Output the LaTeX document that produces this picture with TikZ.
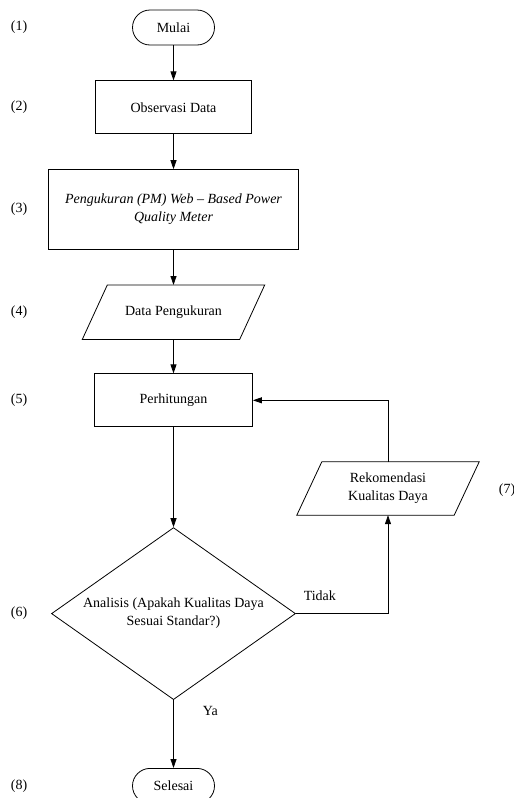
\documentclass[tikz,border=0pt]{standalone}
\usepackage{fontspec}
\setmainfont{Liberation Serif}
\usetikzlibrary{arrows.meta,positioning,shapes.geometric}
\tikzset{
  flowarrow/.style={-{Triangle[length=9pt,width=6pt]}, line width=0.8pt, draw=black},
  flowline/.style={line width=0.8pt, draw=black},
  terminal/.style={draw=black, line width=0.8pt, rounded corners=17.5pt,
    minimum width=82pt, minimum height=35pt, inner sep=0pt, align=center},
  process/.style={draw=black, line width=0.8pt, rectangle, inner sep=0pt, align=center},
  io/.style={rectangle, minimum width=157pt, minimum height=54pt, inner sep=0pt, align=center,
    append after command={\pgfextra{\draw[flowline]
      ([xshift=-12.5pt]\tikzlastnode.south west) -- ([xshift=12.5pt]\tikzlastnode.north west)
      -- ([xshift=12.5pt]\tikzlastnode.north east) -- ([xshift=-12.5pt]\tikzlastnode.south east)
      -- cycle;}}},
  decision/.style={draw=black, line width=0.8pt, diamond, shape aspect=1.42,
    minimum width=244pt, minimum height=172pt, inner sep=0pt, align=center},
  steplabel/.style={inner sep=0pt},
  smallnote/.style={inner sep=3pt}
}

\begin{document}
\begin{tikzpicture}[x=1pt, y=-1pt, node distance=35pt,
    every node/.style={font=\fontsize{14}{18}\selectfont}]
        \useasboundingbox (0,0) rectangle (514,798);
        \node[terminal] (mulai) at (173.5,27.5) {Mulai};
        \node[process, below=of mulai, minimum width=156pt, minimum height=53pt] (observasi) {Observasi Data};
        \node[process, below=of observasi, minimum width=250pt, minimum height=80pt] (ukur) {\itshape Pengukuran (PM) Web -- Based Power\\\itshape Quality Meter};
        \node[io, below=of ukur] (data) {Data Pengukuran};
        \node[process, below=34pt of data, minimum width=158pt, minimum height=53pt] (hitung) {Perhitungan};
        \node[decision, below=100pt of hitung] (analisis) {Analisis (Apakah Kualitas Daya\\Sesuai Standar?)};
        \node[terminal, below=68pt of analisis] (selesai) {Selesai};
        \node[io, minimum height=53pt] (rekom) at (388,488.5) {Rekomendasi\\Kualitas Daya};

        % nomor langkah
        \coordinate (lblx) at (19,0);
        \node[steplabel] (n1) at (lblx |- mulai) {(1)};
        \node[steplabel] (n2) at (lblx |- observasi) {(2)};
        \node[steplabel] (n3) at (lblx |- ukur) {(3)};
        \node[steplabel] (n4) at (lblx |- data) {(4)};
        \node[steplabel] (n5) at (lblx |- hitung) {(5)};
        \node[steplabel] (n6) at (lblx |- analisis) {(6)};
        \node[steplabel] (n7) at (507,490) {(7)};
        \node[steplabel] (n8) at (lblx |- selesai) {(8)};

        \draw[flowarrow] (mulai) -- (observasi);
        \draw[flowarrow] (observasi) -- (ukur);
        \draw[flowarrow] (ukur) -- (data);
        \draw[flowarrow] (data) -- (hitung);
        \draw[flowarrow] (hitung) -- (analisis);
        \draw[flowarrow] (analisis) -- node[smallnote, pos=0.16, right=26pt] {Ya} (selesai);
        \draw[flowarrow] (analisis.east) -| node[smallnote, pos=0.13, above=10pt] {Tidak} (rekom.south);
        \draw[flowarrow] (rekom.north) |- (hitung.east);
    \end{tikzpicture}
\end{document}
